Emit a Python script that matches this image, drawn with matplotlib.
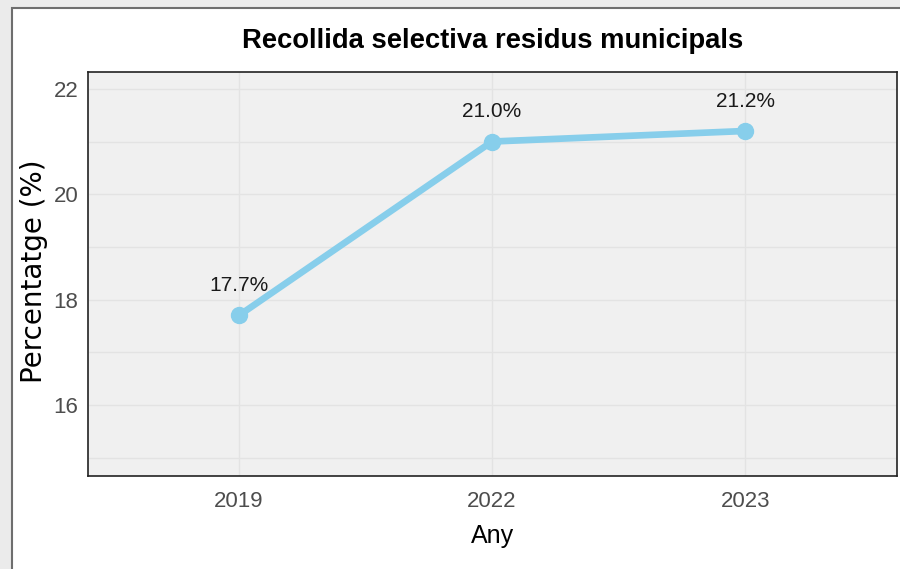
import matplotlib.pyplot as plt
from matplotlib.patches import Rectangle
from matplotlib import font_manager

years = ["2019", "2022", "2023"]
values = [17.7, 21.0, 21.2]
labels = ["17.7%", "21.0%", "21.2%"]
yticks = [16, 18, 20, 22]
minor_yticks = [15, 17, 19, 21]

names = {f.name for f in font_manager.fontManager.ttflist}
narrow = "Liberation Sans Narrow" if "Liberation Sans Narrow" in names else "Liberation Sans"

W, H = 900, 569
fig = plt.figure(figsize=(9, 5.69), dpi=100)
fig.patch.set_facecolor("#EBEBEB")

# white plot area with a grey frame, as in a screenshot of the chart
fig.patches.append(Rectangle((12 / W, -0.01), 1.0, 1 - 8 / H + 0.01,
                             transform=fig.transFigure, facecolor="white",
                             edgecolor="#6E6E6E", linewidth=1.5, zorder=-5))

ax = fig.add_axes([88 / W, 1 - 476 / H, (897 - 88) / W, (476 - 72) / H])
ax.set_zorder(2)
ax.set_facecolor("#F0F0F0")

x = list(range(1, len(years) + 1))
ax.plot(x, values, color="#87CEEB", linewidth=4.8, marker="o",
        markersize=11.5, solid_capstyle="round", zorder=3)
for xi, v, lab in zip(x, values, labels):
    ax.annotate(lab, (xi, v), xytext=(0, 21.5), textcoords="offset points",
                ha="center", va="center", fontsize=15, family=narrow,
                color="#1A1A1A")

ax.set_xlim(0.403, 3.6)
ax.set_ylim(14.65, 22.32)
ax.set_xticks(x)
ax.set_xticklabels(years)
ax.set_yticks(yticks)
ax.set_yticks(minor_yticks, minor=True)
ax.grid(True, which="both", color="#E3E3E3", linewidth=1)
ax.set_axisbelow(True)

for lab in ax.get_xticklabels() + ax.get_yticklabels():
    lab.set_family(narrow)
    lab.set_fontsize(16)
    lab.set_color("#4D4D4D")
ax.tick_params(axis="both", which="both", length=3, color="white", width=1)
ax.tick_params(axis="x", pad=8)
ax.tick_params(axis="y", pad=4)

for s in ax.spines.values():
    s.set_color("#222222")
    s.set_linewidth(1.2)

ax.set_xlabel("Any", fontsize=18, family=narrow, color="black")
ax.xaxis.label.set_va("center")
ax.xaxis.set_label_coords(0.5, (476 - 536) / 404)
ax.set_ylabel("Percentatge (%)", fontsize=20, family="DejaVu Sans",
              color="black")
ax.yaxis.label.set_va("center")
ax.yaxis.label.set_ha("center")
ax.yaxis.set_label_coords((34 - 88) / 809, 0.507)

fig.text((88 + 897) / 2 / W, 1 - 41 / H, "Recollida selectiva residus municipals",
         ha="center", va="center", fontsize=19.7, fontweight="bold", family=narrow)

fig.savefig("out.png", dpi=100, facecolor=fig.get_facecolor())
